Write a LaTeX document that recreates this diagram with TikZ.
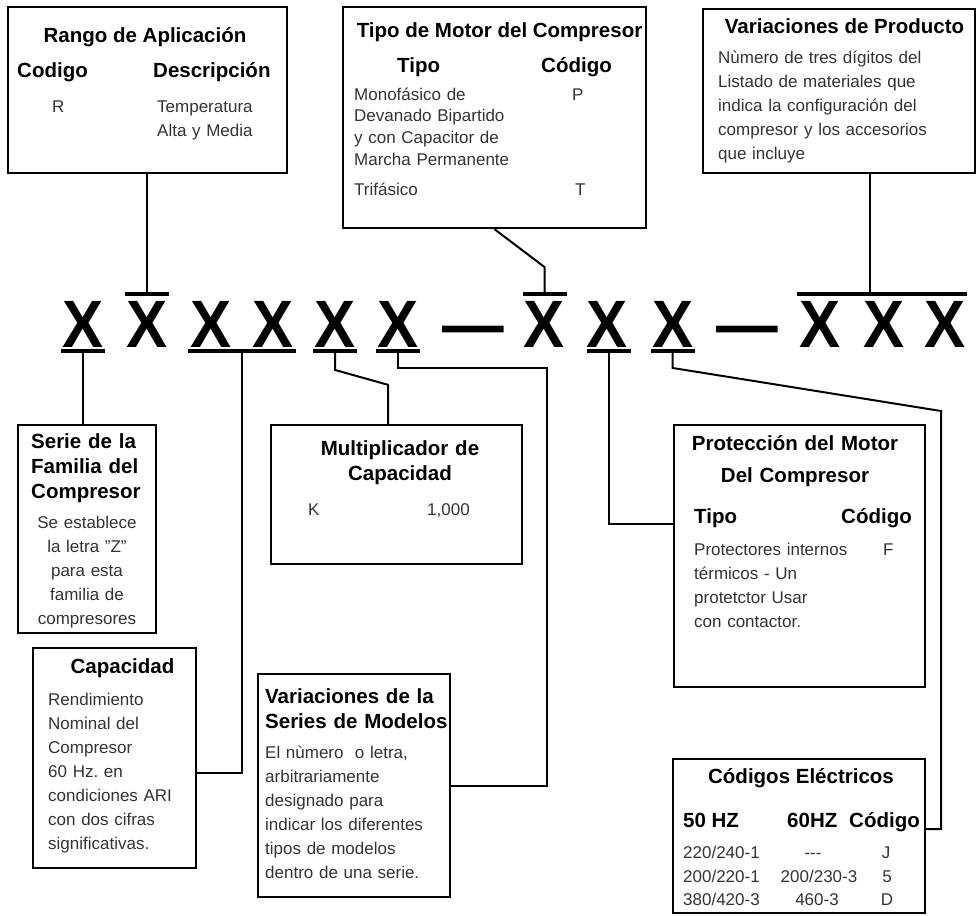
\documentclass[tikz,border=0pt]{standalone}
\usepackage{fontspec}
\setmainfont{Liberation Sans}
\usepackage{graphicx}
\frenchspacing

\newcommand{\bigX}{\scalebox{0.92}[1]{X}}
\newcommand{\bigdash}{\scalebox{0.92}[1]{—}}

\begin{document}
\begin{tikzpicture}[x=1pt,y=-1pt]
    \tikzstyle{panel}=[shape=rectangle,draw,line width=2.4pt,inner sep=0pt]
    \tikzstyle{head}=[inner sep=0pt,font=\fontsize{20.5}{25}\selectfont\bfseries]
    \tikzstyle{body}=[inner sep=0pt,text=black!80,font=\fontsize{17}{24}\selectfont]
    \tikzstyle{para}=[text width=250pt,align=left,anchor=base west]
    \tikzstyle{cpara}=[text width=250pt,align=center,anchor=base]
    \tikzstyle{letter}=[inner sep=0pt,anchor=base,font=\fontsize{67}{67}\selectfont\bfseries]
    \tikzstyle{bar}=[shape=rectangle,fill=black,inner sep=0pt,minimum height=3.5pt]
    \tikzstyle{link}=[draw,line width=2pt]

    \useasboundingbox (0,0) rectangle (978,916);

    % the code letters
    \node[letter] (x1) at (83,347) {\bigX};
    \node[letter] (x2) at (147,347) {\bigX};
    \node[letter] (x3) at (211,347) {\bigX};
    \node[letter] (x4) at (273,347) {\bigX};
    \node[letter] (x5) at (335,347) {\bigX};
    \node[letter] (x6) at (398,347) {\bigX};
    \node[letter] (dash1) at (473,347) {\bigdash};
    \node[letter] (x7) at (544,347) {\bigX};
    \node[letter] (x8) at (607,347) {\bigX};
    \node[letter] (x9) at (673,347) {\bigX};
    \node[letter] (dash2) at (747,347) {\bigdash};
    \node[letter] (x10) at (820,347) {\bigX};
    \node[letter] (x11) at (884,347) {\bigX};
    \node[letter] (x12) at (945,347) {\bigX};

    % bars over and under the letters
    \node[bar,minimum width=44pt] (ob2) at (146.5,294) {};
    \node[bar,minimum width=44pt] (ob7) at (544.5,294) {};
    \node[bar,minimum width=170pt] (ob10) at (882,294) {};
    \node[bar,minimum width=44pt] (ub1) at (82.5,351) {};
    \node[bar,minimum width=108pt] (ub3) at (242,351) {};
    \node[bar,minimum width=44pt] (ub5) at (335,351) {};
    \node[bar,minimum width=44pt] (ub6) at (397.5,351) {};
    \node[bar,minimum width=44pt] (ub8) at (608.5,351) {};
    \node[bar,minimum width=44pt] (ub9) at (672.5,351) {};

    % boxes
    \node[panel,minimum width=279pt,minimum height=166pt] (rango) at (147.5,90) {};
    \node[panel,minimum width=303pt,minimum height=221pt] (motor) at (494.5,117.5) {};
    \node[panel,minimum width=272pt,minimum height=164pt] (prod) at (839,91) {};
    \node[panel,minimum width=138pt,minimum height=208pt] (serie) at (87,529) {};
    \node[panel,minimum width=163pt,minimum height=220pt] (cap) at (114.5,758) {};
    \node[panel,minimum width=251pt,minimum height=139pt] (mult) at (396.5,494.5) {};
    \node[panel,minimum width=192pt,minimum height=223pt] (series) at (354,785.5) {};
    \node[panel,minimum width=251pt,minimum height=262pt] (prot) at (799.5,556) {};
    \node[panel,minimum width=252pt,minimum height=154pt] (elec) at (799,836) {};

    % Rango de Aplicacion
    \node[head,anchor=base] (rangoT) at (145,42) {Rango de Aplicación};
    \node[head,anchor=base west] (rangoC) at (17,77) {Codigo};
    \node[head,anchor=base west] (rangoD) at (153,77) {Descripción};
    \node[body,anchor=base west] (rangoR) at (52,112) {R};
    \node[body,para] (rangoB) at (157,112) {Temperatura\\Alta y Media};

    % Tipo de Motor
    \node[head,anchor=base] (motorT) at (499.5,37) {Tipo de Motor del Compresor};
    \node[head,anchor=base west] (motorTi) at (397,72) {Tipo};
    \node[head,anchor=base west] (motorCo) at (541,72) {Código};
    \node[body,para,font=\fontsize{17}{21.7}\selectfont] (motorB) at (354,100)
        {Monofásico de\\Devanado Bipartido\\y con Capacitor de\\Marcha Permanente};
    \node[body,anchor=base west] (motorP) at (572,100) {P};
    \node[body,anchor=base west] (motorTri) at (354,195) {Trifásico};
    \node[body,anchor=base west] (motorTc) at (575,195) {T};

    % Variaciones de Producto
    \node[head,anchor=base] (prodT) at (844.5,33) {Variaciones de Producto};
    \node[body,para] (prodB) at (718,63)
        {Nùmero de tres dígitos del\\Listado de materiales que\\indica la configuración del\\compresor y los accesorios\\que incluye};

    % Serie de la Familia
    \node[head,para] (serieT) at (31,448) {Serie de la\\Familia del\\Compresor};
    \node[body,cpara] (serieB) at (87,528)
        {Se establece\\la letra "Z"\\para esta\\familia de\\compresores};

    % Capacidad
    \node[head,anchor=base] (capT) at (122.5,673) {Capacidad};
    \node[body,para] (capB) at (48,705)
        {Rendimiento\\Nominal del\\Compresor\\60 Hz. en\\condiciones ARI\\con dos cifras\\significativas.};

    % Multiplicador
    \node[head,cpara] (multT) at (400,455) {Multiplicador de\\Capacidad};
    \node[body,anchor=base west] (multK) at (308,515) {K};
    \node[body,anchor=base west] (multV) at (427,515) {1,000};

    % Variaciones de la Series
    \node[head,para] (seriesT) at (265,703) {Variaciones de la\\Series de Modelos};
    \node[body,para] (seriesB) at (265,758)
        {El nùmero\ \ o letra,\\arbitrariamente\\designado para\\indicar los diferentes\\tipos de modelos\\dentro de una serie.};

    % Proteccion del Motor
    \node[head,cpara,font=\fontsize{20.5}{32}\selectfont\bfseries] (protT) at (795,450)
        {Protección del Motor\\Del Compresor};
    \node[head,anchor=base west] (protTi) at (694,523) {Tipo};
    \node[head,anchor=base east] (protCo) at (912,523) {Código};
    \node[body,para] (protB) at (694,555)
        {Protectores internos\\térmicos - Un\\protetctor Usar\\con contactor.};
    \node[body,anchor=base west] (protF) at (883,555) {F};

    % Codigos Electricos
    \node[head,anchor=base] (elecT) at (801,783) {Códigos Eléctricos};
    \node[head,anchor=base west] (elecH1) at (683,827) {50 HZ};
    \node[head,anchor=base west] (elecH2) at (787,827) {60HZ};
    \node[head,anchor=base west] (elecH3) at (849,827) {Código};
    \node[body,anchor=base west] (elecA1) at (683,858) {220/240-1};
    \node[body,anchor=base] (elecB1) at (813,858) {-{}-{}-};
    \node[body,anchor=base] (elecC1) at (886,858) {J};
    \node[body,anchor=base west] (elecA2) at (683,882) {200/220-1};
    \node[body,anchor=base] (elecB2) at (819,882) {200/230-3};
    \node[body,anchor=base] (elecC2) at (887,882) {5};
    \node[body,anchor=base west] (elecA3) at (683,905) {380/420-3};
    \node[body,anchor=base] (elecB3) at (817,905) {460-3};
    \node[body,anchor=base] (elecC3) at (887,905) {D};

    % connectors
    \coordinate (prodJ) at ([xshift=-12pt]ob10.north);
    \coordinate (multJ) at ([xshift=-8.5pt]mult.north);
    \coordinate (elecJ) at (941,411);

    \path[link]
    (ob2.north) edge (ob2.north |- rango.south)
    (prodJ) edge (prodJ |- prod.south)
    (ub1.south) edge (ub1.south |- serie.north)
    ;

    \draw[link] (motor.south) -- ([yshift=25pt]ob7.north) -- (ob7.north);
    \draw[link] (ub3.south) |- ([yshift=-15pt]cap.east);
    \draw[link] (ub5.south) -- ++(0,17) -- ([yshift=39pt]multJ) -- (multJ);
    \draw[link] (ub6.south) -- ++(0,15) -| ([xshift=96pt]series.east) -- (series.east);
    \draw[link] (ub8.south) |- ([yshift=32pt]prot.west);
    \draw[link] (ub9.south) -- ++(0,15) -- (elecJ) |- ([yshift=7pt]elec.east);

\end{tikzpicture}
\end{document}
